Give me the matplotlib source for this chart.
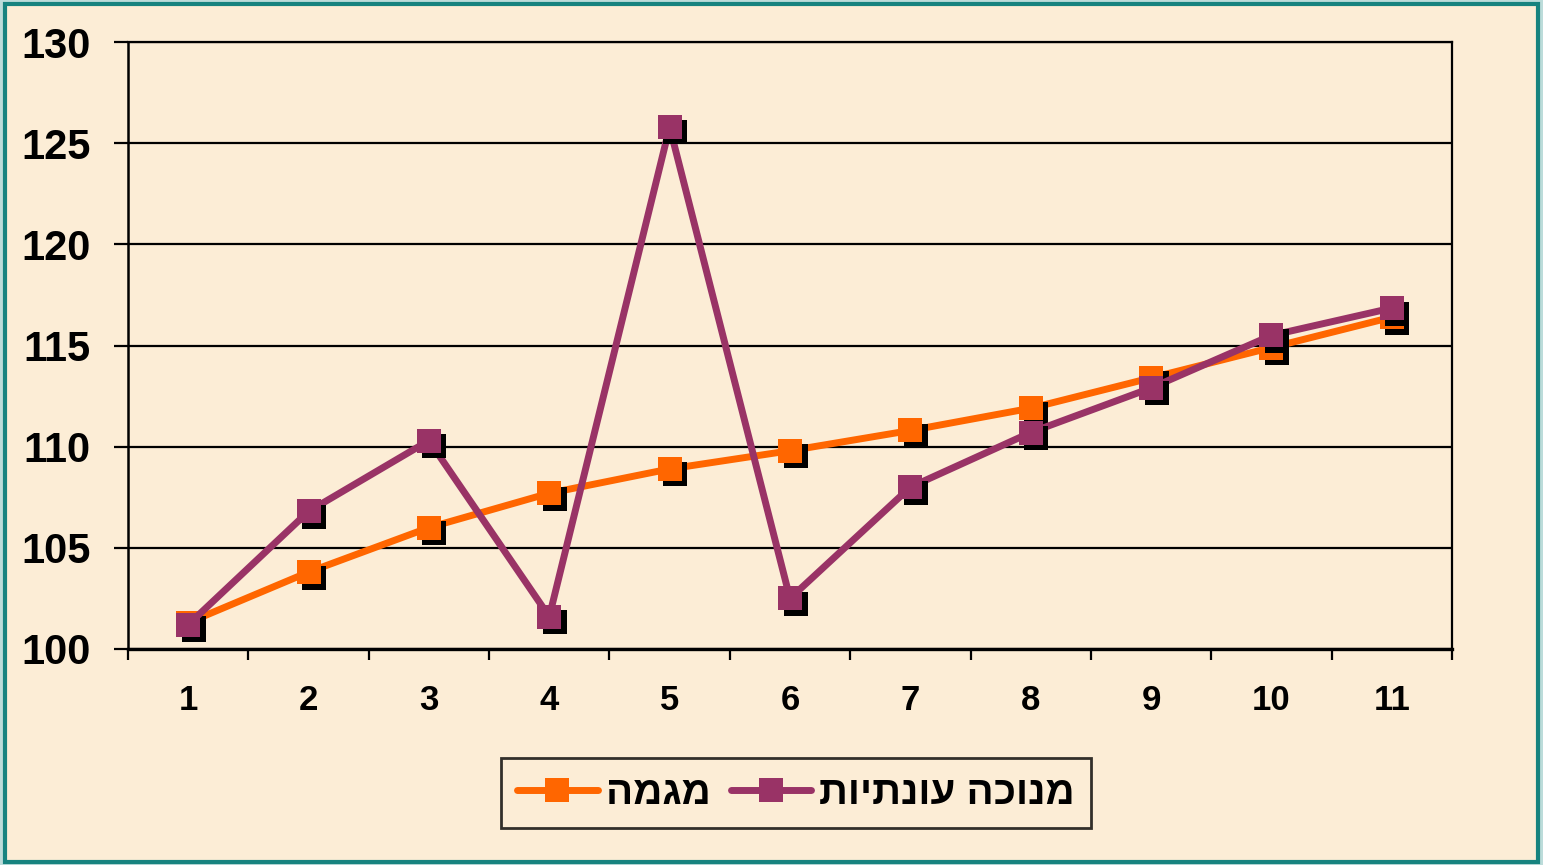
import matplotlib.pyplot as plt
import matplotlib.transforms as mtransforms
from matplotlib.lines import Line2D
from matplotlib.patches import Rectangle

# quarters and the two series
periods = [1, 2, 3, 4, 5, 6, 7, 8, 9, 10, 11]
trend = [101.3, 103.8, 106.0, 107.7, 108.9, 109.8, 110.8, 111.9, 113.4, 114.9, 116.4]
adjusted = [101.2, 106.8, 110.3, 101.6, 125.8, 102.5, 108.0, 110.7, 112.9, 115.5, 116.85]

# hebrew labels (reversed for left-to-right drawing)
trend_label = "מגמה"
adjusted_label = "מנוכה עונתיות"

orange = "#FF6600"
purple = "#993366"

plt.rcParams["font.family"] = ["Liberation Sans", "DejaVu Sans"]
plt.rcParams["font.weight"] = "bold"

fig = plt.figure(figsize=(15.43, 8.65), dpi=100, facecolor="#BCDCDA")

# teal frame and beige panel
fig.patches.append(Rectangle((5 / 1543, 3 / 865), 1533 / 1543, 858 / 865,
                             transform=fig.transFigure, facecolor="#FCEDD6",
                             edgecolor="#17837F", linewidth=3, zorder=-5))

ax = fig.add_axes([128 / 1543, 1 - 649 / 865, (1452 - 128) / 1543, (649 - 42) / 865])
ax.set_facecolor("none")

ax.set_xlim(0.5, 11.5)
ax.set_ylim(100, 130)
ax.set_yticks(range(100, 131, 5))
ax.yaxis.grid(True, color="black", linewidth=1.6)
ax.set_axisbelow(True)

ax.set_xticks([p + 0.5 for p in [0] + periods])
ax.set_xticks(periods, minor=True)
ax.set_xticklabels([])
ax.set_xticklabels([str(p) for p in periods], minor=True, fontsize=25, fontweight="bold")
ax.tick_params(axis="x", which="major", direction="out", length=8, width=1.6, color="black")
ax.tick_params(axis="x", which="minor", length=0, pad=25)
ax.tick_params(axis="y", direction="out", length=10, width=1.6, labelsize=30, pad=17)
for lab in ax.get_yticklabels():
    lab.set_fontweight("bold")

ax.spines["top"].set_linewidth(1.6)
ax.spines["right"].set_linewidth(1.6)
ax.spines["left"].set_linewidth(1.8)
ax.spines["bottom"].set_linewidth(2.4)

shadow = ax.transData + mtransforms.ScaledTranslation(5.5 / 100, -5.5 / 100, fig.dpi_scale_trans)

z = 3
for vals, col in [(trend, orange), (adjusted, purple)]:
    ax.plot(periods, vals, color=col, linewidth=5, zorder=z, solid_capstyle="round")
    ax.plot(periods, vals, linestyle="none", marker="s", markersize=17, color="black",
            markeredgewidth=0, transform=shadow, zorder=z + 1)
    ax.plot(periods, vals, linestyle="none", marker="s", markersize=17, color=col,
            markeredgewidth=0, zorder=z + 2)
    z += 3

handles = [
    Line2D([], [], color=orange, linewidth=5, marker="s", markersize=17, markeredgewidth=0,
           solid_capstyle="round"),
    Line2D([], [], color=purple, linewidth=5, marker="s", markersize=17, markeredgewidth=0,
           solid_capstyle="round"),
]
leg = fig.legend(handles, [trend_label[::-1], adjusted_label[::-1]], ncol=2,
                 loc="center", bbox_to_anchor=(796 / 1543, 1 - 793 / 865),
                 prop={"size": 29, "weight": "bold"}, frameon=True, fancybox=False,
                 numpoints=1, handlelength=2.0, handletextpad=0.2, columnspacing=0.5,
                 borderpad=0.4, borderaxespad=0)
leg.get_frame().set_edgecolor("black")
leg.get_frame().set_linewidth(2)
leg.get_frame().set_facecolor("none")

fig.savefig("out.png", dpi=100, facecolor=fig.get_facecolor())
